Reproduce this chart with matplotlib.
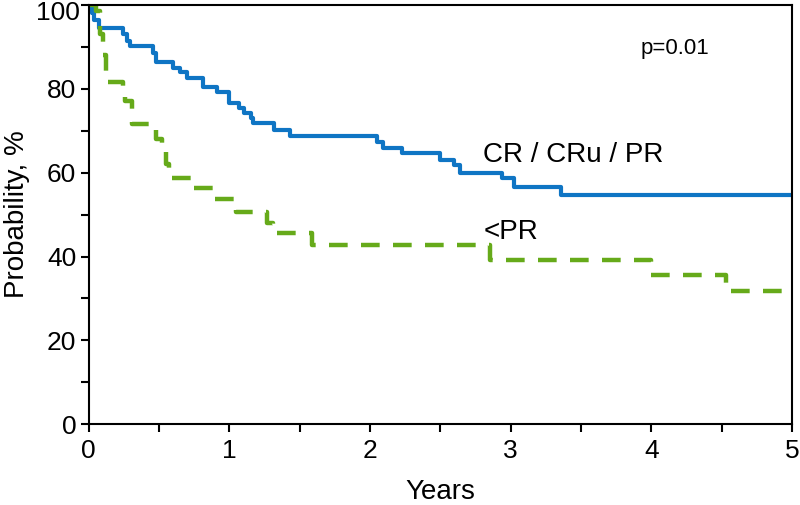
import matplotlib
matplotlib.use('Agg')
import matplotlib.pyplot as plt
from matplotlib.ticker import MultipleLocator

plt.rcParams['font.family'] = ['Liberation Sans', 'DejaVu Sans']

# survival curves (years, probability %)
cr_t = [0, 0.02, 0.04, 0.07, 0.24, 0.27, 0.29, 0.31, 0.46, 0.48, 0.6, 0.65, 0.7,
        0.81, 0.91, 1.0, 1.07, 1.1, 1.15, 1.17, 1.32, 1.43, 2.05, 2.09, 2.23,
        2.5, 2.6, 2.64, 2.94, 3.02, 3.36, 5.0]
cr_p = [100, 98, 96.5, 94.5, 93, 91.5, 90.2, 90.2, 88.5, 86.4, 84.9, 84, 82.6,
        80.4, 79.2, 76.6, 75.4, 74.2, 73, 71.8, 70.2, 68.7, 67.3, 65.9, 64.7,
        63.0, 61.8, 59.9, 58.7, 56.6, 54.6, 54.6]

lt_t = [0, 0.05, 0.08, 0.1, 0.12, 0.24, 0.26, 0.31, 0.48, 0.52, 0.55, 0.57,
        0.73, 0.9, 1.05, 1.27, 1.31, 1.59, 2.85, 4.0, 4.53, 5.0]
lt_p = [100, 98.5, 93, 88, 81.6, 78, 77, 71.6, 68, 66, 62, 58.7,
        56.3, 53.7, 50.6, 48, 45.6, 42.7, 39.1, 35.6, 31.7, 31.7]

y_ticks = [0, 20, 40, 60, 80, 100]
x_ticks = [0, 1, 2, 3, 4, 5]

blue = '#0f75c4'
green = '#66aa1a'

fig = plt.figure(figsize=(8, 5.05), dpi=100)
ax = fig.add_axes([0.111, 0.160, 0.879, 0.830])

ax.step(cr_t, cr_p, where='post', color=blue, lw=3)
ax.step(lt_t, lt_p, where='post', color=green, lw=3.2, dashes=(4.2, 3.0))

ax.set_xlim(0, 5)
ax.set_ylim(0, 100)
ax.set_xticks(x_ticks)
ax.xaxis.set_minor_locator(MultipleLocator(0.5))
ax.set_yticks(y_ticks)
# top label would be clipped at the figure edge, so it is drawn a bit lower by hand
ax.set_yticklabels([str(v) if v < 100 else '' for v in y_ticks])
ax.yaxis.set_minor_locator(MultipleLocator(10))
ax.tick_params(which='both', direction='out', length=6, width=1.5, labelsize=19)
ax.tick_params(axis='x', pad=5)
ax.tick_params(axis='y', pad=3)
ax.text(-0.013, 101, str(y_ticks[-1]), transform=ax.get_yaxis_transform(),
        ha='right', va='top', fontsize=19)

for s in ax.spines.values():
    s.set_linewidth(1.5)

ax.set_xlabel('Years', fontsize=20, labelpad=11)
ax.set_ylabel('Probability, %', fontsize=20)
ax.yaxis.set_label_coords(-0.084, 0.5)

ax.text(2.8, 64.2, 'CR / CRu / PR', fontsize=20, va='center')
ax.text(2.81, 45.8, '<PR', fontsize=20, va='center')
ax.text(3.92, 89.7, 'p=0.01', fontsize=16, va='center')

fig.savefig('out.png', dpi=100)
